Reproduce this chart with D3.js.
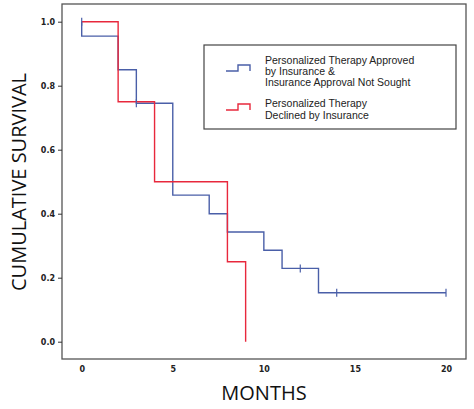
<!DOCTYPE html><html><head><script src="https://d3js.org/d3.v7.min.js"></script>
<style>body{margin:0;background:#fff}</style></head><body><script>
const blueT=[0,0,2,3,5,7,8,10,11,13,20];
const blueS=[1,0.955,0.85,0.745,0.458,0.40,0.343,0.286,0.229,0.153,0.153];
const blueCensT=[0,3,12,14,20];
const blueCensS=[1,0.745,0.229,0.153,0.153];
const redT=[0,2,4,8,9,9];
const redS=[1,0.75,0.5,0.25,0.25,0];
const xTicks=[0,5,10,15,20];
const yTicks=[0,0.2,0.4,0.6,0.8,1.0];
const legendLabels=[["Personalized Therapy Approved","by Insurance &","Insurance Approval Not Sought"],["Personalized Therapy","Declined by Insurance"]];
const colors=["#4a5fa8","#e8283c"];
const svg=d3.select("body").append("svg").attr("width",474).attr("height",409);
const x=d3.scaleLinear().domain([0,20]).range([81.7,446]);
const y=d3.scaleLinear().domain([0,1]).range([341.7,21.7]);
svg.append("rect").attr("x",62).attr("y",4).attr("width",404).attr("height",355).attr("fill","none").attr("stroke","#555").attr("stroke-width",1.3);
const yAx=svg.append("g").attr("transform","translate(62,0)").call(d3.axisLeft(y).tickValues(yTicks).tickFormat(d3.format(".1f")).tickSize(4));
const xAx=svg.append("g").attr("transform","translate(0,359)").call(d3.axisBottom(x).tickValues(xTicks).tickSize(0).tickPadding(7));
[yAx,xAx].forEach(a=>{a.select(".domain").remove();a.selectAll("text").attr("font-family","DejaVu Sans").attr("font-weight","bold").attr("font-size",8).attr("fill","#222");a.selectAll("line").attr("stroke","#333");});
const step=d3.line().x(d=>x(d[0])).y(d=>y(d[1])).curve(d3.curveStepAfter);
svg.append("path").attr("d",step(blueT.map((t,i)=>[t,blueS[i]]))).attr("fill","none").attr("stroke",colors[0]).attr("stroke-width",1.4);
svg.append("path").attr("d",step(redT.map((t,i)=>[t,redS[i]]))).attr("fill","none").attr("stroke",colors[1]).attr("stroke-width",1.4);
svg.selectAll(".c").data(blueCensT.map((t,i)=>[t,blueCensS[i]])).enter().append("line")
 .attr("x1",d=>x(d[0])).attr("x2",d=>x(d[0])).attr("y1",d=>y(d[1])-4).attr("y2",d=>y(d[1])+4).attr("stroke",colors[0]).attr("stroke-width",1.2);
svg.append("text").attr("x",264).attr("y",400).attr("text-anchor","middle").attr("font-family","Open Sans").attr("font-size",20).attr("fill","#111").text("MONTHS");
svg.append("text").attr("transform","translate(26,182) rotate(-90)").attr("text-anchor","middle").attr("font-family","Open Sans").attr("font-size",20).attr("fill","#111").text("CUMULATIVE SURVIVAL");
svg.append("rect").attr("x",204).attr("y",45).attr("width",252).attr("height",84).attr("fill","#fff").attr("stroke","#444").attr("stroke-width",1.2);
const ly=[[60,71,82],[103,115]];
legendLabels.forEach((lines,i)=>{
 const my=ly[i][0]+(i==0?8:4);
 svg.append("path").attr("d",`M226,${my+3}H238V${my-3}H250V${my+3}`).attr("fill","none").attr("stroke",colors[i]).attr("stroke-width",1.4);
 lines.forEach((l,j)=>svg.append("text").attr("x",265).attr("y",ly[i][j]+4).attr("font-family","Liberation Sans").attr("font-size",10.5).attr("fill","#222").text(l));
});
</script></body></html>
